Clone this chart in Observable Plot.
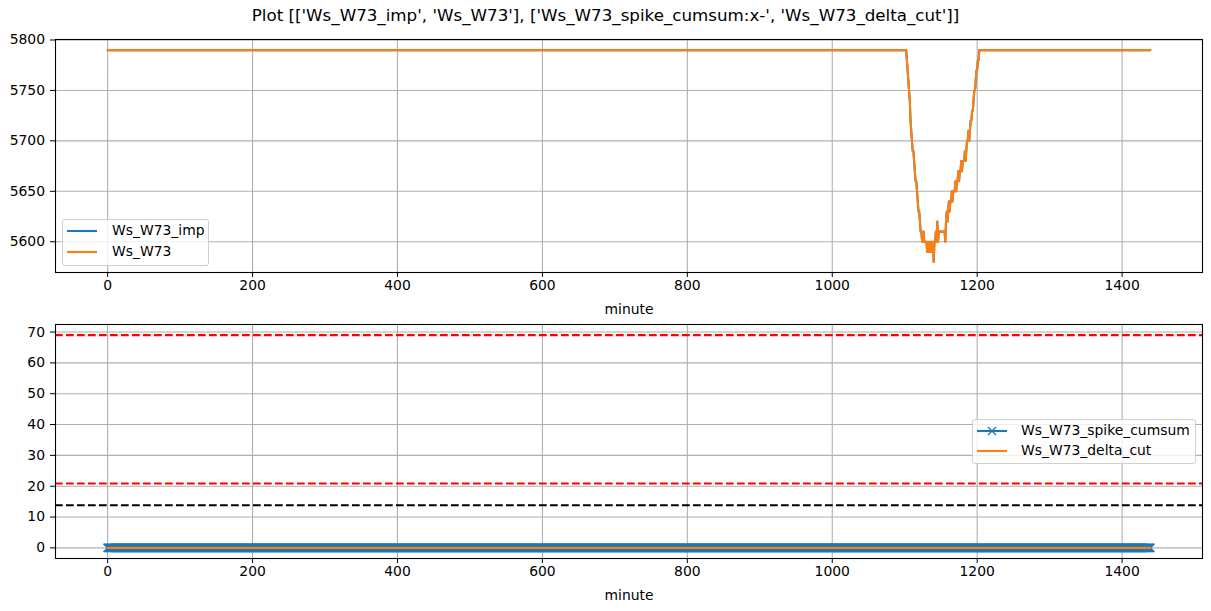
<!DOCTYPE html>
<html>
<head>
<meta charset="utf-8">
<script src="https://cdn.jsdelivr.net/npm/d3@7"></script>
<script src="https://cdn.jsdelivr.net/npm/@observablehq/plot@0.6"></script>
<style>
  html, body { margin: 0; padding: 0; background: white; }
  #fig { position: relative; width: 1211px; height: 611px; background: white; font-family: "DejaVu Sans", sans-serif; overflow: hidden; }
  #fig svg { position: absolute; left: 0; }
  .title { position: absolute; top: 5px; left: 0; width: 1211px; text-align: center; font-size: 16.7px; color: black; }
  .legend { position: absolute; background: rgba(255,255,255,0.8); border: 1px solid #d0d0d0; border-radius: 3px; box-sizing: border-box; font-size: 13.9px; color: black; }
  .legend .row { position: absolute; left: 0; height: 20px; width: 100%; }
  .legend .row svg { position: absolute; left: 0; top: 0; }
  .legend .row span { position: absolute; top: 1px; white-space: nowrap; }
</style>
</head>
<body>
<div id="fig"></div>
<script>
// ---------- data ----------
const titleText = "Plot [['Ws_W73_imp', 'Ws_W73'], ['Ws_W73_spike_cumsum:x-', 'Ws_W73_delta_cut']]";
const firstMinute = 0;
const lastMinute = 1439;
const wsBaseline = 5790;          // value before and after the dip
const dipStart = 1102;            // minute of first dip value
const dipValues = [
  5790, 5780, 5770, 5760, 5750, 5740, 5720, 5710, 5700, 5690,
  5690, 5680, 5670, 5660, 5660, 5650, 5640, 5630, 5630, 5620,
  5610, 5610, 5600, 5600, 5610, 5600, 5600, 5600, 5600, 5590,
  5600, 5590, 5600, 5590, 5590, 5600, 5590, 5600, 5580, 5600,
  5600, 5610, 5600, 5620, 5600, 5610, 5610, 5610, 5610, 5610,
  5610, 5610, 5610, 5610, 5600, 5620, 5630, 5620, 5630, 5640,
  5630, 5640, 5640, 5650, 5640, 5650, 5650, 5650, 5660, 5650,
  5660, 5660, 5670, 5660, 5670, 5670, 5680, 5670, 5680, 5680,
  5680, 5690, 5680, 5690, 5700, 5700, 5710, 5700, 5710, 5720,
  5720, 5730, 5730, 5740, 5750, 5750, 5760, 5770, 5770, 5780,
  5780, 5790
];
const spikeCumsumValue = 0;       // Ws_W73_spike_cumsum is 0 at every minute
const deltaCutValue = 0;          // Ws_W73_delta_cut is 0 at every minute
const upperRedLevel = 69.0;
const lowerRedLevel = 20.9;
const blackLevel = 13.8;
const xTicks = [0, 200, 400, 600, 800, 1000, 1200, 1400];
const topYTicks = [5600, 5650, 5700, 5750, 5800];
const bottomYTicks = [0, 10, 20, 30, 40, 50, 60, 70];

// ---------- build tables ----------
const ws = [{minute: firstMinute, value: wsBaseline}];
dipValues.forEach((v, i) => ws.push({minute: dipStart + i, value: v}));
ws.push({minute: lastMinute, value: wsBaseline});
const allMinutes = d3.range(firstMinute, lastMinute + 1);
const spike = allMinutes.map(m => ({minute: m, value: spikeCumsumValue}));
const delta = [{minute: firstMinute, value: deltaCutValue}, {minute: lastMinute, value: deltaCutValue}];

const pad = (lastMinute - firstMinute) * 0.05;
const xDomain = [firstMinute - pad, lastMinute + pad];
const C0 = "#1f77b4", C1 = "#ff7f0e", GRID = "#b0b0b0";
const style = {fontFamily: "DejaVu Sans", fontSize: "13.9px", color: "black", background: "transparent", overflow: "visible"};

function yPad(lo, hi) { const p = (hi - lo) * 0.05; return [lo - p, hi + p]; }

const fig = document.getElementById("fig");
const title = document.createElement("div");
title.className = "title";
title.textContent = titleText;
fig.appendChild(title);

// ---------- top plot ----------
const topPlot = Plot.plot({
  width: 1211, height: 320,
  marginLeft: 55, marginRight: 9, marginTop: 39, marginBottom: 48,
  x: {domain: xDomain},
  y: {domain: yPad(d3.min(dipValues), d3.max(ws, d => d.value))},
  style,
  marks: [
    Plot.gridX(xTicks, {stroke: GRID, strokeOpacity: 1, strokeWidth: 1.1}),
    Plot.gridY(topYTicks, {stroke: GRID, strokeOpacity: 1, strokeWidth: 1.1}),
    Plot.axisX(xTicks, {tickSize: 5, tickPadding: 3, tickFormat: "d", label: "minute", labelAnchor: "center", labelArrow: "none", labelOffset: 41}),
    Plot.axisY(topYTicks, {tickSize: 5, tickPadding: 5.5, tickFormat: "d", label: null}),
    Plot.line(ws, {x: "minute", y: "value", stroke: C0, strokeWidth: 2.1}),
    Plot.line(ws, {x: "minute", y: "value", stroke: C1, strokeWidth: 2.1}),
    Plot.frame({stroke: "black", strokeWidth: 1.1})
  ]
});
topPlot.style.top = "0px";
fig.appendChild(topPlot);

// ---------- bottom plot ----------
const bottomPlot = Plot.plot({
  width: 1211, height: 311,
  marginLeft: 55, marginRight: 9, marginTop: 24, marginBottom: 53,
  x: {domain: xDomain},
  y: {domain: yPad(0, upperRedLevel)},
  style,
  marks: [
    Plot.gridX(xTicks, {stroke: GRID, strokeOpacity: 1, strokeWidth: 1.1}),
    Plot.gridY(bottomYTicks, {stroke: GRID, strokeOpacity: 1, strokeWidth: 1.1}),
    Plot.axisX(xTicks, {tickSize: 5, tickPadding: 3, tickFormat: "d", label: "minute", labelAnchor: "center", labelArrow: "none", labelOffset: 41}),
    Plot.axisY(bottomYTicks, {tickSize: 5, tickPadding: 5.5, tickFormat: "d", label: null}),
    Plot.ruleY([upperRedLevel, lowerRedLevel], {stroke: "red", strokeWidth: 2.1, strokeDasharray: "7.7,3.3"}),
    Plot.ruleY([blackLevel], {stroke: "black", strokeWidth: 2.1, strokeDasharray: "7.7,3.3"}),
    Plot.line(spike, {x: "minute", y: "value", stroke: C0, strokeWidth: 2.1}),
    Plot.dot(spike, {x: "minute", y: "value", symbol: "times", r: 3.85, stroke: C0, strokeWidth: 1.4}),
    Plot.line(delta, {x: "minute", y: "value", stroke: C1, strokeWidth: 2.1}),
    Plot.frame({stroke: "black", strokeWidth: 1.1})
  ]
});
bottomPlot.style.top = "300px";
fig.appendChild(bottomPlot);

// ---------- legends ----------
function legend(left, top, width, height, rowTops, entries, textLeft) {
  const box = document.createElement("div");
  box.className = "legend";
  Object.assign(box.style, {left: left + "px", top: top + "px", width: width + "px", height: height + "px"});
  entries.forEach((e, i) => {
    const row = document.createElement("div");
    row.className = "row";
    row.style.top = rowTops[i] + "px";
    const ns = "http://www.w3.org/2000/svg";
    const s = document.createElementNS(ns, "svg");
    s.setAttribute("width", 50); s.setAttribute("height", 20);
    const ln = document.createElementNS(ns, "line");
    ln.setAttribute("x1", 4); ln.setAttribute("x2", 34);
    ln.setAttribute("y1", 10); ln.setAttribute("y2", 10);
    ln.setAttribute("stroke", e.color); ln.setAttribute("stroke-width", 2.1);
    s.appendChild(ln);
    if (e.marker) {
      const p = document.createElementNS(ns, "path");
      p.setAttribute("d", "M15,6L23,14M15,14L23,6");
      p.setAttribute("stroke", e.color); p.setAttribute("stroke-width", 1.4);
      s.appendChild(p);
    }
    row.appendChild(s);
    const t = document.createElement("span");
    t.style.left = textLeft + "px";
    t.textContent = e.label;
    row.appendChild(t);
    box.appendChild(row);
  });
  fig.appendChild(box);
}
legend(62, 219, 147, 47, [1, 22], [
  {label: "Ws_W73_imp", color: C0},
  {label: "Ws_W73", color: C1}
], 49);
legend(972, 419, 224, 45, [1, 21], [
  {label: "Ws_W73_spike_cumsum", color: C0, marker: true},
  {label: "Ws_W73_delta_cut", color: C1}
], 48);
</script>
</body>
</html>
